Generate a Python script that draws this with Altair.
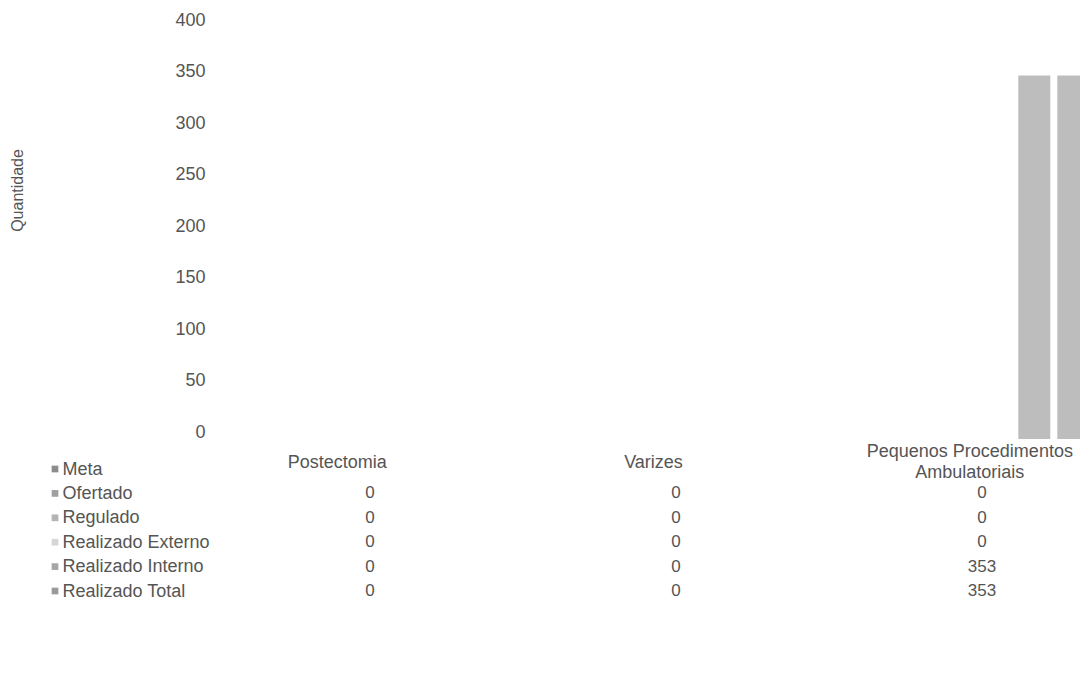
import altair as alt
import pandas as pd

# ---- data ----
categories = ["Postectomia", "Varizes", "Pequenos Procedimentos Ambulatoriais"]
series = ["Meta", "Ofertado", "Regulado", "Realizado Externo",
          "Realizado Interno", "Realizado Total"]
meta = [None, None, None]
ofertado = [0, 0, 0]
regulado = [0, 0, 0]
realizado_externo = [0, 0, 0]
realizado_interno = [0, 0, 353]
realizado_total = [0, 0, 353]
y_ticks = [0, 50, 100, 150, 200, 250, 300, 350, 400]
y_title = "Quantidade"

# ---- styling ----
FONT = "Liberation Sans"
NUM_FONT = "Liberation Sans Narrow, Liberation Sans"
TXT = "#555555"
BAR = "#bdbdbd"
swatch_colors = ["#8c8c8c", "#a0a0a0", "#b4b4b4", "#d6d6d6", "#a6a6a6", "#9a9a9a"]

values = {
    "Meta": meta,
    "Ofertado": ofertado,
    "Regulado": regulado,
    "Realizado Externo": realizado_externo,
    "Realizado Interno": realizado_interno,
    "Realizado Total": realizado_total,
}
rows = []
for s in series:
    for c, v in zip(categories, values[s]):
        rows.append({"categoria": c, "serie": s, "valor": v})
df = pd.DataFrame(rows)
sw = pd.DataFrame({"serie": series})

long_cat = "Pequenos Procedimentos Ambulatoriais"
label_expr = (f"datum.value == '{long_cat}' ? "
              "['Pequenos Procedimentos', 'Ambulatoriais'] : datum.label")
label_pad = {"condition": {"test": f"datum.value == '{long_cat}'", "value": 12},
             "value": 23}

bars = alt.Chart(df).transform_filter("isValid(datum.valor)").mark_bar(
    color=BAR, clip=True
).encode(
    x=alt.X("categoria:N", sort=categories, title=None,
            scale=alt.Scale(domain=categories, range=[-33, 916],
                            paddingInner=0.26, paddingOuter=0.13),
            axis=alt.Axis(orient="bottom", labelPadding=label_pad, ticks=False,
                          tickSize=0, domain=False, grid=False, labelAngle=0,
                          labelBaseline="middle", labelFontSize=18, labelFont=FONT,
                          labelColor=TXT, labelLimit=400, labelLineHeight=21,
                          labelExpr=label_expr)),
    xOffset=alt.XOffset("serie:N", sort=series,
                        scale=alt.Scale(domain=series, range=[6, 240],
                                        paddingInner=0.18, paddingOuter=0.09)),
    y=alt.Y("valor:Q", scale=alt.Scale(domain=[0, 400], nice=False),
            axis=alt.Axis(orient="left", values=y_ticks, grid=False, domain=False,
                          ticks=False, tickSize=0, labelPadding=7, labelOffset=-7,
                          labelFontSize=18, labelFont=FONT, labelColor=TXT,
                          title=y_title, titleX=-195, titleY=163, titleAngle=270,
                          titleAlign="center", titleBaseline="middle",
                          titleFontSize=16, titleFontWeight="normal",
                          titleFont=FONT, titleColor=TXT)),
)

row_scale = alt.Scale(type="point", domain=series, range=[442, 564], padding=0)

table = alt.Chart(df).transform_filter("isValid(datum.valor)").transform_calculate(
    txt="format(datum.valor, 'd')"
).mark_text(font=NUM_FONT, fontSize=17, color=TXT, baseline="middle", align="center").encode(
    x=alt.X("categoria:N", sort=categories,
            scale=alt.Scale(domain=categories, range=[5, 923],
                            paddingInner=0, paddingOuter=0),
            axis=None),
    y=alt.Y("serie:N", sort=series, scale=row_scale,
            axis=alt.Axis(orient="left", labelAlign="left", labelPadding=150,
                          ticks=False, tickSize=0, domain=False, grid=False,
                          title=None, labelFontSize=18, labelFont=FONT,
                          labelColor=TXT, labelLimit=300, labelBaseline="middle")),
    text="txt:N",
)

swatches = alt.Chart(sw).mark_square(size=45, opacity=1).encode(
    x=alt.value(-157),
    y=alt.Y("serie:N", sort=series, scale=row_scale, axis=None),
    color=alt.Color("serie:N", sort=series,
                    scale=alt.Scale(domain=series, range=swatch_colors), legend=None),
)

chart = alt.layer(bars, table, swatches).resolve_scale(
    x="independent", y="independent", color="independent"
).properties(
    width=868, height=412,
    autosize=alt.AutoSizeParams(type="none"),
    padding={"left": 204, "top": 19, "right": 0, "bottom": 175},
).configure_view(stroke=None)

chart.save("out.html", embed_options={"renderer": "svg", "actions": False})
